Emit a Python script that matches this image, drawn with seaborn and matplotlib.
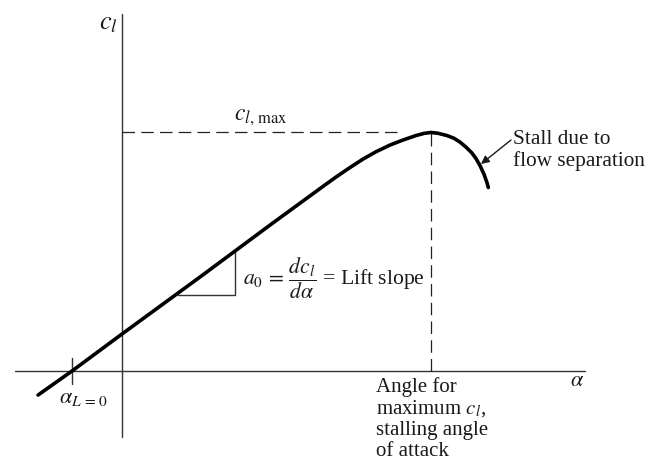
import matplotlib
matplotlib.use("Agg")
import matplotlib.pyplot as plt
import seaborn as sns
import pandas as pd

# ---- data (alpha in degrees, c_l) ----
alpha = [-4.35, -2.59, 0.0, 4.04, 7.67, 10.41, 11.09, 11.81, 12.49, 13.16, 13.89,
         14.56, 15.23, 15.65, 16.01, 16.37, 16.84, 17.20, 17.51, 17.82, 18.13,
         18.34, 18.55, 18.76, 18.91, 18.98]
cl = [-0.178, 0.0, 0.274, 0.696, 1.081, 1.367, 1.437, 1.507, 1.570, 1.624, 1.674,
      1.711, 1.744, 1.760, 1.767, 1.761, 1.744, 1.724, 1.696, 1.659, 1.615,
      1.574, 1.522, 1.456, 1.396, 1.359]
alpha_L0 = -2.6
alpha_stall = 16.0
cl_max = 1.767
triangle_alpha = [2.90, 5.85]
triangle_cl = [0.563, 0.887]

sns.set_theme(style="white")
plt.rcParams["font.family"] = ["Liberation Serif", "DejaVu Serif"]
plt.rcParams["mathtext.fontset"] = "stix"

W, H = 661, 459
fig = plt.figure(figsize=(W / 100, H / 100), dpi=100)
ax = fig.add_axes([0, 0, 1, 1])
ax.axis("off")

# pixel mapping of the reference (origin of axes at px (122, 371))
SX, SY, X0, Y0 = 19.3, 135.0, 122.0, 371.0
ax.set_xlim(-X0 / SX, (W - X0) / SX)
ax.set_ylim((Y0 - H) / SY, Y0 / SY)


def at(px, py):
    return (px - X0) / SX, (Y0 - py) / SY


# axes lines
ax.plot([at(15, 0)[0], at(585, 0)[0]], [0, 0], color="#333333", lw=1.0)
ax.plot([0, 0], [at(0, 437)[1], at(0, 14)[1]], color="#333333", lw=1.0)
# alpha_L=0 tick
ax.plot([alpha_L0, alpha_L0], [at(0, 384)[1], at(0, 358)[1]], color="#333333", lw=1.0)

# dashed guides
ax.plot([0, at(397, 0)[0]], [cl_max, cl_max], color="#222222", lw=0.9,
        linestyle=(0, (10, 5)))
ax.plot([alpha_stall, alpha_stall], [0, cl_max], color="#222222", lw=0.9,
        linestyle=(0, (10, 5)))

# slope triangle
ax.plot([triangle_alpha[0], triangle_alpha[1], triangle_alpha[1]],
        [triangle_cl[0], triangle_cl[0], triangle_cl[1]], color="#333333", lw=1.0)

# lift curve
df = pd.DataFrame({"alpha": alpha, "cl": cl})
sns.lineplot(data=df, x="alpha", y="cl", ax=ax, color="black", lw=2.6,
             estimator=None, sort=False, solid_capstyle="round",
             solid_joinstyle="round")

txt = dict(color="#1a1a1a")
ax.text(*at(108, 24), r"$c_l$", fontsize=19, ha="center", va="center", **txt)
ax.text(*at(261, 118), r"$c_{l,\,\mathrm{max}}$", fontsize=17, ha="center", va="center", **txt)
ax.text(*at(513, 139), "Stall due to", fontsize=15.3, ha="left", va="center", **txt)
ax.text(*at(513, 161), "flow separation", fontsize=15.3, ha="left", va="center", **txt)
ax.annotate("", xy=at(481, 164), xytext=at(511, 140),
            arrowprops=dict(arrowstyle="-|>", color="#1a1a1a", lw=1.0,
                            mutation_scale=12, shrinkA=0, shrinkB=0))
ax.text(*at(577, 381), r"$\alpha$", fontsize=16, ha="center", va="center", **txt)
ax.text(*at(84, 398), r"$\alpha_{L\,=\,0}$", fontsize=16, ha="center", va="center", **txt)
ax.text(*at(243, 278), r"$a_0\,=\,\dfrac{dc_l}{d\alpha}$ = Lift slope", fontsize=15.6,
        ha="left", va="center", **txt)
for py, s in [(387, "Angle for"), (409, r"maximum $c_l$,"),
              (430, "stalling angle"), (451, "of attack")]:
    ax.text(*at(376, py), s, fontsize=15, ha="left", va="center", **txt)

fig.savefig("out.png", dpi=100, facecolor="white")
